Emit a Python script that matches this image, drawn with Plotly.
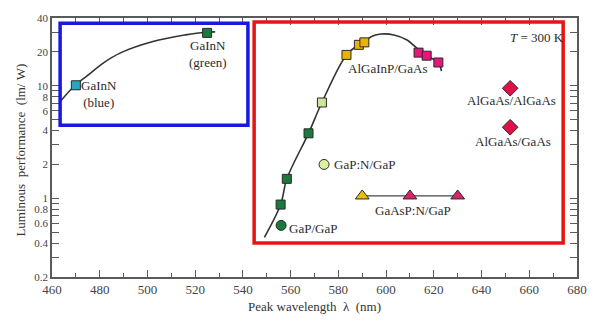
import numpy as np
import plotly.graph_objects as go

# ---------------- data ----------------
# GaInN fit curve (blue box)
gainn_curve_nm = [463.8, 469.7, 474.8, 481.6, 488.5, 502.3, 516.0, 524.2, 528.4]
gainn_curve_lm = [7.4, 10.1, 12.3, 16.0, 19.5, 24.7, 28.3, 29.9, 30.1]

# AlGaInP / GaP fit curve (red box)
red_curve_nm = [549.0, 555.8, 558.4, 567.5, 573.1, 583.4, 588.6, 590.9, 593.7,
                597.8, 603.3, 608.8, 612.9, 617.0, 621.9, 623.2]
red_curve_lm = [0.45, 0.88, 1.49, 3.78, 7.1, 18.8, 23.1, 24.3, 27.3,
                28.8, 28.3, 25.5, 21.6, 18.5, 16.1, 13.5]

gainn_blue_nm, gainn_blue_lm = [470], [10.1]
gainn_green_nm, gainn_green_lm = [525], [29.5]
gap_sq_nm, gap_sq_lm = [555.8, 558.4, 567.5], [0.88, 1.49, 3.78]
ltgreen_sq_nm, ltgreen_sq_lm = [573.1], [7.1]
algainp_y_nm, algainp_y_lm = [583.4, 588.6, 590.9], [18.8, 23.1, 24.3]
algainp_r_nm, algainp_r_lm = [613.6, 617.0, 621.9], [19.7, 18.5, 16.1]
gap_gap_nm, gap_gap_lm = [556], [0.575]
gapn_nm, gapn_lm = [574], [2.0]
gaaspn_nm, gaaspn_lm = [590, 610, 630], [1.05, 1.05, 1.05]
algaas_algaas_nm, algaas_algaas_lm = [652], [9.5]
algaas_gaas_nm, algaas_gaas_lm = [652], [4.28]

# highlight boxes [x0, x1, y0, y1] in data units
blue_box = [463.4, 542.1, 4.47, 35.9]
red_box = [544.7, 674.2, 0.40, 36.9]

# axis ticks
x_ticks = [460, 480, 500, 520, 540, 560, 580, 600, 620, 640, 660, 680]
y_tick_vals = [0.2, 0.3, 0.4, 0.5, 0.6, 0.7, 0.8, 0.9, 1, 2, 3, 4, 5, 6, 7, 8, 9,
               10, 20, 30, 40]
y_tick_text = ["0.2", "", "0.4", "", "0.6", "", "0.8", "", "1", "2", "", "4", "",
               "6", "", "8", "", "10", "20", "", "40"]

# text labels: (text, wavelength, value, xanchor)
labels = [
    ("GaInN<br>(blue)", 479.6, 10 ** 0.930, "center"),
    ("GaInN<br>(green)", 525.4, 10 ** 1.283, "center"),
    ("AlGaInP/GaAs", 600.4, 10 ** 1.157, "center"),
    ("AlGaAs/AlGaAs", 652.7, 10 ** 0.871, "center"),
    ("AlGaAs/GaAs", 653.0, 10 ** 0.502, "center"),
    ("GaP:N/GaP", 577.4, 10 ** 0.300, "left"),
    ("GaAsP:N/GaP", 611.1, 10 ** -0.111, "center"),
    ("GaP/GaP", 558.6, 10 ** -0.271, "left"),
    ("<i>T</i> = 300 K", 663.1, 10 ** 1.426, "center"),
]

# ---------------- figure ----------------
FONT = "Liberation Serif, Times New Roman, serif"
EDGE = "#2a2a2a"
CURVE = "#333333"

fig = go.Figure()

fig.add_trace(go.Scatter(x=gainn_curve_nm, y=gainn_curve_lm, mode="lines",
                         line=dict(color=CURVE, width=1.6, shape="spline"),
                         showlegend=False, hoverinfo="skip"))
fig.add_trace(go.Scatter(x=red_curve_nm, y=red_curve_lm, mode="lines",
                         line=dict(color=CURVE, width=1.6, shape="spline"),
                         showlegend=False, hoverinfo="skip"))
fig.add_trace(go.Scatter(x=gaaspn_nm, y=gaaspn_lm, mode="lines+markers",
                         line=dict(color="#444444", width=1.3),
                         marker=dict(symbol="triangle-up", size=12,
                                     color=["#E8C000", "#E0206A", "#E0206A"],
                                     line=dict(color=EDGE, width=1)),
                         showlegend=False))


def add_pts(x, y, color, symbol="square", size=9):
    fig.add_trace(go.Scatter(x=x, y=y, mode="markers",
                             marker=dict(symbol=symbol, size=size, color=color,
                                         line=dict(color=EDGE, width=1)),
                             showlegend=False))


add_pts(gainn_blue_nm, gainn_blue_lm, "#2AA6C2")
add_pts(gainn_green_nm, gainn_green_lm, "#1A7A3C")
add_pts(gap_sq_nm, gap_sq_lm, "#1A7A3C")
add_pts(ltgreen_sq_nm, ltgreen_sq_lm, "#CFE39A")
add_pts(algainp_y_nm, algainp_y_lm, "#E8B400")
add_pts(algainp_r_nm, algainp_r_lm, "#E8157A")
add_pts(gap_gap_nm, gap_gap_lm, "#1A7A3C", "circle", 10)
add_pts(gapn_nm, gapn_lm, "#DDEFA0", "circle", 10)
add_pts(algaas_algaas_nm, algaas_algaas_lm, "#E0104A", "diamond", 12)
add_pts(algaas_gaas_nm, algaas_gaas_lm, "#E0104A", "diamond", 12)

fig.add_shape(type="rect", xref="x", yref="y",
              x0=blue_box[0], x1=blue_box[1], y0=blue_box[2], y1=blue_box[3],
              line=dict(color="#1818E0", width=3.5), layer="above")
fig.add_shape(type="rect", xref="x", yref="y",
              x0=red_box[0], x1=red_box[1], y0=red_box[2], y1=red_box[3],
              line=dict(color="#E81414", width=3.5), layer="above")

for text, xv, yv, xa in labels:
    fig.add_annotation(x=xv, y=np.log10(yv), xref="x", yref="y", text=text,
                       showarrow=False, xanchor=xa, yanchor="middle",
                       font=dict(family=FONT, size=13, color="#2b2b2b"))

fig.add_annotation(xref="paper", yref="paper", x=-0.06, y=0.49,
                   text="Luminous\u00a0\u00a0performance\u00a0\u00a0(lm/\u00a0W)",
                   textangle=-90, showarrow=False, xanchor="center",
                   yanchor="middle",
                   font=dict(family=FONT, size=13, color="#333333"))

axis_common = dict(showline=True, linecolor="#5a5a5a", linewidth=1.6,
                   mirror="allticks", ticks="inside", tickcolor="#5a5a5a",
                   tickwidth=1.4, showgrid=False, zeroline=False,
                   ticklabeloverflow="allow")

fig.update_xaxes(range=[460, 680], tickvals=x_ticks, ticklen=7,
                 tickfont=dict(family=FONT, size=13, color="#444444"),
                 minor=dict(dtick=10, tick0=460, ticks="inside", ticklen=4,
                            tickcolor="#5a5a5a", tickwidth=1.2),
                 title=dict(text="Peak wavelength\u00a0\u00a0\u03bb\u00a0\u00a0(nm)",
                            font=dict(family=FONT, size=13, color="#333333"),
                            standoff=5),
                 **axis_common)
fig.update_yaxes(type="log", range=[np.log10(0.2), np.log10(40)],
                 tickvals=y_tick_vals, ticktext=y_tick_text, ticklen=7,
                 tickfont=dict(family=FONT, size=11, color="#444444"),
                 **axis_common)

# page body adds an 8 px margin all round, so the figure is sized to fit
fig.update_layout(width=583, height=308,
                  margin=dict(l=44, r=5, t=4, b=30),
                  paper_bgcolor="white", plot_bgcolor="white",
                  showlegend=False)

fig.write_html("out.html")
